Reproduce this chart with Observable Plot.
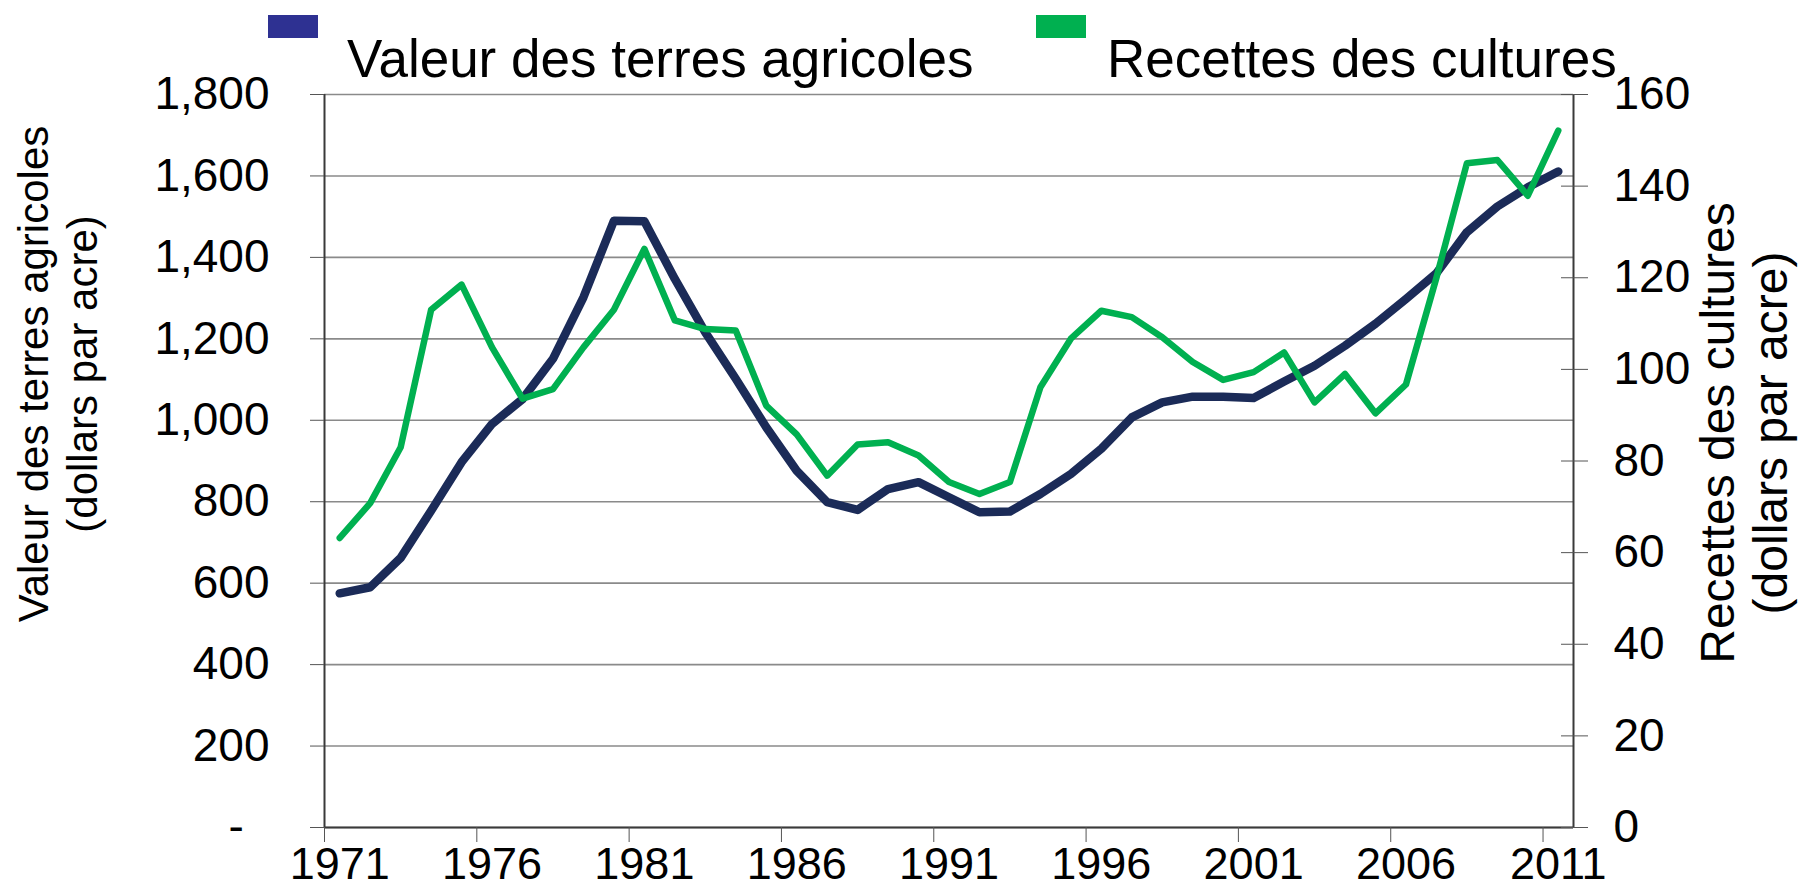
<!DOCTYPE html>
<html><head><meta charset="utf-8">
<script src="https://cdn.jsdelivr.net/npm/d3@7"></script>
<script src="https://cdn.jsdelivr.net/npm/@observablehq/plot@0.6"></script>
<style>
html,body{margin:0;padding:0;background:#fff;font-family:"Liberation Sans",Arial,sans-serif;}
#legend{position:relative;width:1800px;height:80px;overflow:visible;}
.sw{position:absolute;top:15px;width:50px;height:23px;}
.lt{position:absolute;top:32px;font-size:53px;line-height:53px;color:#000;white-space:nowrap;}
#chart svg{display:block;}
</style></head><body>
<div id="legend"></div>
<div id="chart"></div>
<script>
// ---- data ----
const years = [1971,1972,1973,1974,1975,1976,1977,1978,1979,1980,
               1981,1982,1983,1984,1985,1986,1987,1988,1989,1990,
               1991,1992,1993,1994,1995,1996,1997,1998,1999,2000,
               2001,2002,2003,2004,2005,2006,2007,2008,2009,2010,2011];
const landValue = [575,590,662,778,897,991,1052,1151,1302,1490,
                   1489,1347,1216,1102,983,876,799,780,831,848,
                   811,774,776,819,868,930,1007,1044,1058,1058,
                   1055,1095,1134,1183,1237,1298,1361,1462,1525,1572,1611];
const cropReceipts = [63.2,70.8,83.0,113.0,118.5,104.8,93.6,95.7,104.8,113.0,
                      126.3,110.7,108.8,108.5,92.1,85.8,76.8,83.6,84.1,81.2,
                      75.4,72.8,75.4,96.1,106.7,112.8,111.4,107.0,101.6,97.7,
                      99.4,103.7,92.8,99.0,90.4,96.7,120.0,145.0,145.7,137.9,152.1];
const xTickYears = [1971,1976,1981,1986,1991,1996,2001,2006,2011];
const leftTicks = [0,200,400,600,800,1000,1200,1400,1600,1800];
const rightTicks = [0,20,40,60,80,100,120,140,160];
const seriesNames = ["Valeur des terres agricoles","Recettes des cultures"];
const lineColors = ["#1b2b58","#00b050"];
const legendColors = ["#2e3192","#00b050"];
const leftTitle = "Valeur des terres agricoles\n(dollars par acre)";
const rightTitle = "Recettes des cultures\n(dollars par acre)";

// ---- derived ----
const y2 = d3.scaleLinear([rightTicks[0], rightTicks[rightTicks.length-1]],
                          [leftTicks[0], leftTicks[leftTicks.length-1]]);
const land = years.map((year,i)=>({year, value: landValue[i]}));
const crops = years.map((year,i)=>({year, value: y2(cropReceipts[i])}));
const xDomain = [years[0]-0.5, years[years.length-1]+0.5];
const FONT = "'Liberation Sans', Arial, sans-serif";

// ---- legend ----
const legend = document.getElementById("legend");
const swX = [268, 1036], txX = [347, 1107];
seriesNames.forEach((name,i)=>{
  const s = document.createElement("div");
  s.className = "sw"; s.style.left = swX[i]+"px"; s.style.background = legendColors[i];
  legend.appendChild(s);
  const t = document.createElement("div");
  t.className = "lt"; t.style.left = txX[i]+"px"; t.textContent = name;
  legend.appendChild(t);
});

// ---- chart ----
const chart = Plot.plot({
  width: 1800, height: 811,
  marginLeft: 324, marginRight: 227, marginTop: 14, marginBottom: 64,
  style: {fontFamily: FONT, background: "#fff", color: "#000", overflow: "visible"},
  x: {domain: xDomain},
  y: {domain: [leftTicks[0], leftTicks[leftTicks.length-1]]},
  marks: [
    Plot.ruleY(leftTicks, {stroke: "#8a8a8a", strokeWidth: 1.6}),
    Plot.ruleY([0], {stroke: "#3a3a3a", strokeWidth: 2}),
    Plot.ruleX(xDomain, {stroke: "#3a3a3a", strokeWidth: 2}),
    Plot.axisY(leftTicks, {anchor: "left", tickSize: 14, tickPadding: 41, fontSize: 46,
      stroke: "#555", label: null,
      tickFormat: d => d === 0 ? "-\u2007" : d3.format(",")(d)}),
    Plot.axisY(rightTicks.map(y2), {anchor: "right", tickSize: 27, dx: -13,
      stroke: "#555", label: null, tickFormat: () => ""}),
    Plot.axisY(rightTicks.map(y2), {anchor: "right", tickSize: 0, tickPadding: 40, fontSize: 46,
      label: null, tickFormat: d => String(Math.round(y2.invert(d)))}),
    Plot.axisX(xTickYears.map(d => d - 0.5), {tickSize: 15, stroke: "#555", label: null,
      tickFormat: () => ""}),
    Plot.axisX(xTickYears, {tickSize: 0, tickPadding: 20, fontSize: 45, label: null,
      tickFormat: d => String(d)}),
    Plot.line(land, {x: "year", y: "value", stroke: lineColors[0], strokeWidth: 8.5,
      strokeLinejoin: "round", strokeLinecap: "round"}),
    Plot.line(crops, {x: "year", y: "value", stroke: lineColors[1], strokeWidth: 6.5,
      strokeLinejoin: "round", strokeLinecap: "round"}),
    Plot.text([leftTitle], {text: d => d, frameAnchor: "left", rotate: -90, dx: -268, dy: -87,
      fontSize: 42, lineHeight: 1.18, textAnchor: "middle", lineAnchor: "middle", fill: "#000"}),
    Plot.text([rightTitle], {text: d => d, frameAnchor: "right", rotate: -90, dx: 170, dy: -28,
      fontSize: 48, lineHeight: 1.1, textAnchor: "middle", lineAnchor: "middle", fill: "#000"})
  ]
});
document.getElementById("chart").appendChild(chart);
</script>
</body></html>
